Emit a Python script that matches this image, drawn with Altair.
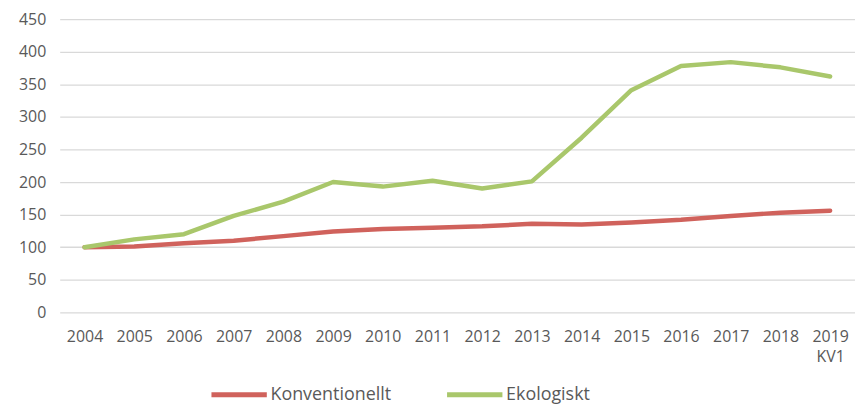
import altair as alt
import pandas as pd

years = ["2004", "2005", "2006", "2007", "2008", "2009", "2010", "2011",
         "2012", "2013", "2014", "2015", "2016", "2017", "2018", "2019"]
konventionellt = [100, 101, 106, 110, 117, 124, 128, 130, 132, 136, 135, 138, 142, 148, 153, 156]
ekologiskt = [100, 112, 120, 148, 170, 200, 193, 202, 190, 201, 268, 341, 378, 384, 376, 362]
series = ["Konventionellt", "Ekologiskt"]
colors = ["#D0625C", "#A9C76B"]
y_ticks = [0, 50, 100, 150, 200, 250, 300, 350, 400, 450]

rows = []
for i, y in enumerate(years):
    rows.append({"year": y, "serie": series[0], "value": konventionellt[i], "o": i})
    rows.append({"year": y, "serie": series[1], "value": ekologiskt[i], "o": i})
df = pd.DataFrame(rows)

FONT = "Open Sans"

chart = alt.Chart(df).mark_line(strokeWidth=4.5, strokeCap="round", strokeJoin="round").encode(
    x=alt.X("year:N", sort=years,
            scale=alt.Scale(type="point", padding=0.5),
            axis=alt.Axis(title=None, domain=False, ticks=False, grid=False,
                          labelAngle=0, labelFont=FONT, labelFontSize=16,
                          labelColor="#595959", labelPadding=16, labelLineHeight=20,
                          labelExpr="datum.label == '2019' ? ['2019', '   KV1'] : datum.label")),
    y=alt.Y("value:Q", scale=alt.Scale(domain=[0, 450], nice=False),
            axis=alt.Axis(title=None, domain=False, ticks=False, values=y_ticks,
                          labelFont=FONT, labelFontSize=16, labelColor="#595959",
                          labelPadding=14, gridColor="#D9D9D9", gridWidth=1.3)),
    color=alt.Color("serie:N", sort=series,
                    scale=alt.Scale(domain=series, range=colors),
                    legend=alt.Legend(title=None, orient="none", direction="horizontal",
                                      legendX=150, legendY=347,
                                      symbolType="stroke", symbolSize=3100,
                                      symbolStrokeWidth=5, labelFont=FONT,
                                      labelFontSize=18, labelColor="#595959",
                                      labelOffset=1, columnPadding=45)),
    order="o:Q",
).properties(
    width=800, height=295,
    autosize=alt.AutoSizeParams(type="none"),
    padding={"left": 52, "top": 10, "right": 0, "bottom": 94},
).configure_view(stroke=None)

chart.save("out.html", embed_options={"renderer": "svg", "actions": False})
